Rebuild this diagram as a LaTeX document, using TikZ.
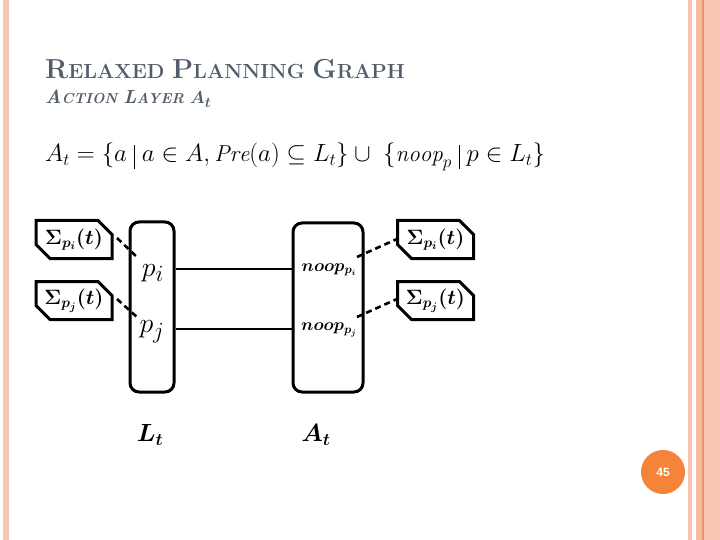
\documentclass[tikz,border=0pt]{standalone}
\usepackage{amsmath,bm}
\usepackage{fontspec}
\usetikzlibrary{shapes.misc,calc}
\definecolor{titlegray}{HTML}{535E6B}
\definecolor{stripe}{HTML}{F7C6B2}
\definecolor{stripedark}{HTML}{F5BBA3}
\definecolor{stripeline}{HTML}{E9956A}
\definecolor{badge}{HTML}{F5843A}
\newfontfamily\badgefont{Liberation Sans}
\newcommand{\setbar}{\mathrel{\vrule height 17pt depth 7pt width 1.1pt}}
\tikzset{
  sigbox/.style={draw, line width=3pt, chamfered rectangle, chamfered rectangle corners={north east,south west},
    chamfered rectangle xsep=7pt, chamfered rectangle ysep=7pt, minimum width=76pt, minimum height=38pt, inner sep=0pt,
    font=\fontsize{21}{21}\selectfont},
  layerbox/.style={draw, line width=3pt, rounded corners=9pt, inner sep=0pt},
  conn/.style={line width=2.8pt},
  dconn/.style={line width=2.6pt, dash pattern=on 6pt off 4pt},
}
\begin{document}
\begin{tikzpicture}[x=1pt,y=-1pt]
\useasboundingbox (0,0) rectangle (720,540);
% side stripes
\fill[stripe] (2.5,0) rectangle (9,540);
\fill[stripe] (688,0) rectangle (692,540);
\fill[stripe] (696,0) rectangle (720,540);
\fill[stripedark] (696,0) rectangle (702,540);
\fill[stripeline] (702,0) rectangle (703.6,540);
% title
\node[anchor=base west, text=titlegray, inner sep=0pt, font=\bfseries] (title) at (45,79)
  {{\fontsize{27.5}{27.5}\selectfont R}{\fontsize{20.4}{20.4}\selectfont ELAXED }{\fontsize{27.5}{27.5}\selectfont P}{\fontsize{20.4}{20.4}\selectfont LANNING }{\fontsize{27.5}{27.5}\selectfont G}{\fontsize{20.4}{20.4}\selectfont RAPH}};
\node[anchor=base west, text=titlegray, inner sep=0pt, font=\bfseries\itshape] (subtitle) at (45,104)
  {{\fontsize{19}{19}\selectfont A}{\fontsize{14.5}{14.5}\selectfont CTION }{\fontsize{19}{19}\selectfont L}{\fontsize{14.5}{14.5}\selectfont AYER }{\fontsize{19}{19}\selectfont$\bm{A_t}$}};
% equation
\node[anchor=base west, inner sep=0pt, font=\fontsize{23}{23}\selectfont] (eq) at (45,162)
  {$A_t=\{a\setbar a\in A, \mathit{Pre}(a)\subseteq L_t\}\cup\ \{\mathit{noop}_p\setbar p\in L_t\}$};
% layers
\node[layerbox, minimum width=44pt, minimum height=170pt] (L) at (152,307) {};
\node[layerbox, minimum width=70pt, minimum height=169pt] (A) at (328,307.5) {};
\node[font=\fontsize{24.88}{25}\selectfont] (pi) at (153,273) {\scalebox{1.12}{$p_i$}};
\node[font=\fontsize{24.88}{25}\selectfont] (pj) at (152,332) {\scalebox{1.12}{$p_j$}};
\node[font=\fontsize{16.5}{16.5}\selectfont] (ni) at (329,270) {$\bm{noop_{p_i}}$};
\node[font=\fontsize{16.5}{16.5}\selectfont] (nj) at (329,330) {$\bm{noop_{p_j}}$};
\node[font=\fontsize{24}{24}\selectfont] (Lt) at (150,435) {$\bm{L_t}$};
\node[font=\fontsize{24}{24}\selectfont] (At) at (316,435) {$\bm{A_t}$};
% sigma boxes
\node[sigbox] (SLi) at (74,239.5) {$\bm{\Sigma_{p_i}(t)}$};
\node[sigbox] (SLj) at (74,300.5) {$\bm{\Sigma_{p_j}(t)}$};
\node[sigbox] (SRi) at (435.5,239.5) {$\bm{\Sigma_{p_i}(t)}$};
\node[sigbox] (SRj) at (435.5,300.5) {$\bm{\Sigma_{p_j}(t)}$};
% connectors
\coordinate (ri) at (0,269);
\coordinate (rj) at (0,329);
\draw[conn] (L.east |- ri) -- (A.west |- ri);
\draw[conn] (L.east |- rj) -- (A.west |- rj);
\coordinate (li1) at (117,238);
\coordinate (li2) at (138,258);
\coordinate (lj1) at (117,299);
\coordinate (lj2) at (138,318);
\coordinate (ri1) at (357,257);
\coordinate (ri2) at (397,239);
\coordinate (rj1) at (357,317);
\coordinate (rj2) at (397,299);
\draw[dconn] (li1) -- (li2);
\draw[dconn] (lj1) -- (lj2);
\draw[dconn] (ri1) -- (ri2);
\draw[dconn] (rj1) -- (rj2);
% page badge
\node[circle, fill=badge, minimum size=44pt, inner sep=0pt, text=white, font=\badgefont\bfseries\fontsize{12}{12}\selectfont] (badge) at (663,472) {45};
\end{tikzpicture}
\end{document}
